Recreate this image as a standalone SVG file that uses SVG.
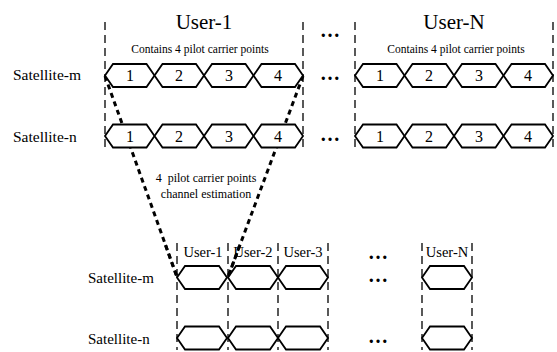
<svg xmlns="http://www.w3.org/2000/svg" width="557" height="352" viewBox="0 0 557 352">
  <style>
    .t { font-family: "Liberation Serif", "Times New Roman", serif; fill: #000; }
    .big { font-size: 21px; text-anchor: middle; }
    .note { font-size: 11.5px; text-anchor: middle; }
    .sat { font-size: 15.5px; }
    .satb { font-size: 15px; }
    .num { font-size: 16px; text-anchor: middle; }
    .usr { font-size: 14.5px; text-anchor: middle; }
    .dots { font-size: 20px; font-weight: bold; text-anchor: middle; }
    .hex { fill: #fff; stroke: #000; stroke-width: 1.8; stroke-linejoin: miter; }
    .guide { stroke: #000; stroke-width: 1.3; stroke-dasharray: 8 5; fill: none; }
    .link { stroke: #000; stroke-width: 3; stroke-dasharray: 5 4; fill: none; }
  </style>
  <defs>
    <polygon id="cellA" class="hex" points="0,0 8,-11.5 41.5,-11.5 49.5,0 41.5,11.5 8,11.5"/>
    <polygon id="cellB" class="hex" points="0,0 8,-11.5 42,-11.5 50,0 42,11.5 8,11.5"/>
  </defs>
  <rect width="557" height="352" fill="#fff"/>

  <!-- frame boundaries -->
  <g id="guides">
    <line class="guide" x1="105" y1="22" x2="105" y2="150"/>
    <line class="guide" x1="303" y1="22" x2="303" y2="150"/>
    <line class="guide" x1="355" y1="22" x2="355" y2="150"/>
    <line class="guide" x1="553" y1="22" x2="553" y2="150"/>
    <line class="guide" x1="177" y1="243" x2="177" y2="350"/>
    <line class="guide" x1="228" y1="243" x2="228" y2="350"/>
    <line class="guide" x1="278" y1="243" x2="278" y2="350"/>
    <line class="guide" x1="328" y1="243" x2="328" y2="350"/>
    <line class="guide" x1="422" y1="243" x2="422" y2="350"/>
    <line class="guide" x1="472" y1="243" x2="472" y2="350"/>
  </g>

  <!-- mapping lines -->
  <g id="connectors">
    <line class="link" x1="105" y1="76" x2="177" y2="277"/>
    <line class="link" x1="303" y1="76" x2="228" y2="277"/>
  </g>

  <!-- labels -->
  <g id="labels">
    <text class="t big" x="204" y="29">User-1</text>
    <text class="t big" x="454" y="29">User-N</text>
    <text class="t note" x="200" y="53">Contains 4 pilot carrier points</text>
    <text class="t note" x="456" y="53">Contains 4 pilot carrier points</text>
    <text class="t sat" x="13" y="80">Satellite-m</text>
    <text class="t sat" x="13" y="142">Satellite-n</text>
    <text class="t satb" x="88" y="283">Satellite-m</text>
    <text class="t satb" x="88" y="344">Satellite-n</text>
    <text class="t note" x="206" y="182" style="font-size:12px" xml:space="preserve">4  pilot carrier points</text>
    <text class="t note" x="206" y="198" style="font-size:12px">channel estimation</text>
    <text class="t dots" x="330" y="37">…</text>
    <text class="t dots" x="330" y="80">…</text>
    <text class="t dots" x="330" y="141">…</text>
    <text class="t dots" x="378" y="259">…</text>
    <text class="t dots" x="378" y="282">…</text>
    <text class="t dots" x="378" y="343">…</text>
  </g>

  <!-- User-1 pilots, satellite m -->
  <g id="u1-m-1"><use href="#cellA" x="105" y="75.5"/><text class="t num" x="130" y="81">1</text></g>
  <g id="u1-m-2"><use href="#cellA" x="154.5" y="75.5"/><text class="t num" x="179" y="81">2</text></g>
  <g id="u1-m-3"><use href="#cellA" x="204" y="75.5"/><text class="t num" x="229" y="81">3</text></g>
  <g id="u1-m-4"><use href="#cellA" x="253.5" y="75.5"/><text class="t num" x="278" y="81">4</text></g>
  <!-- User-1 pilots, satellite n -->
  <g id="u1-n-1"><use href="#cellA" x="105" y="136"/><text class="t num" x="130" y="142">1</text></g>
  <g id="u1-n-2"><use href="#cellA" x="154.5" y="136"/><text class="t num" x="179" y="142">2</text></g>
  <g id="u1-n-3"><use href="#cellA" x="204" y="136"/><text class="t num" x="229" y="142">3</text></g>
  <g id="u1-n-4"><use href="#cellA" x="253.5" y="136"/><text class="t num" x="278" y="142">4</text></g>
  <!-- User-N pilots, satellite m -->
  <g id="un-m-1"><use href="#cellA" x="355" y="75.5"/><text class="t num" x="380" y="81">1</text></g>
  <g id="un-m-2"><use href="#cellA" x="404.5" y="75.5"/><text class="t num" x="429" y="81">2</text></g>
  <g id="un-m-3"><use href="#cellA" x="454" y="75.5"/><text class="t num" x="479" y="81">3</text></g>
  <g id="un-m-4"><use href="#cellA" x="503.5" y="75.5"/><text class="t num" x="528" y="81">4</text></g>
  <!-- User-N pilots, satellite n -->
  <g id="un-n-1"><use href="#cellA" x="355" y="136"/><text class="t num" x="380" y="142">1</text></g>
  <g id="un-n-2"><use href="#cellA" x="404.5" y="136"/><text class="t num" x="429" y="142">2</text></g>
  <g id="un-n-3"><use href="#cellA" x="454" y="136"/><text class="t num" x="479" y="142">3</text></g>
  <g id="un-n-4"><use href="#cellA" x="503.5" y="136"/><text class="t num" x="528" y="142">4</text></g>

  <!-- per-user channel estimates -->
  <g id="est-u1"><text class="t usr" x="203" y="257">User-1</text><use href="#cellB" x="177" y="277.5"/><use href="#cellB" x="177" y="338"/></g>
  <g id="est-u2"><text class="t usr" x="253" y="257">User-2</text><use href="#cellB" x="228" y="277.5"/><use href="#cellB" x="228" y="338"/></g>
  <g id="est-u3"><text class="t usr" x="303" y="257">User-3</text><use href="#cellB" x="278" y="277.5"/><use href="#cellB" x="278" y="338"/></g>
  <g id="est-un"><text class="t usr" x="447" y="257">User-N</text><use href="#cellB" x="422" y="277.5"/><use href="#cellB" x="422" y="338"/></g>

  <!-- mapping lines re-drawn over the estimate row so they reach the cell tips -->
  <g id="connector-tips">
    <line class="link" x1="165.5" y1="245" x2="177" y2="277"/>
    <line class="link" x1="239.5" y1="246" x2="228" y2="277"/>
  </g>
</svg>
